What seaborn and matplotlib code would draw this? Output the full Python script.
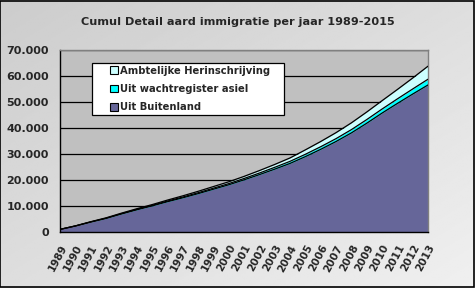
import numpy as np
import pandas as pd
import matplotlib
matplotlib.use("Agg")
import matplotlib.pyplot as plt
import seaborn as sns
from matplotlib.ticker import FuncFormatter
from matplotlib.patches import Patch, Rectangle

years = list(range(1989, 2014))
buitenland = [1000, 2300, 3800, 5200, 6900, 8500, 10000, 11600, 13100, 14700, 16400, 18100,
              20000, 22000, 24100, 26300, 28900, 31700, 34700, 38000, 41700, 45600, 49300, 52900, 56400]
wachtregister = [0, 0, 50, 80, 120, 160, 200, 250, 300, 350, 400, 450, 520, 600, 700, 800,
                 900, 1000, 1100, 1250, 1400, 1550, 1750, 1950, 2200]
herinschrijving = [0, 50, 100, 150, 200, 250, 300, 380, 460, 540, 620, 700, 800, 950, 1100, 1300,
                   1700, 2000, 2300, 2600, 2900, 3200, 3600, 4200, 5000]
series_names = ["Uit Buitenland", "Uit wachtregister asiel", "Ambtelijke Herinschrijving"]
series_colors = ["#666699", "#00FFFF", "#CCFFFF"]
title = "Cumul Detail aard immigratie per jaar 1989-2015"

sns.set_style("white")
plt.rcParams['font.family'] = ['DejaVu Sans']

df = pd.DataFrame({"jaar": years, series_names[0]: buitenland,
                   series_names[1]: wachtregister, series_names[2]: herinschrijving})
cum = df[series_names].cumsum(axis=1)

W, H = 475, 288
fig = plt.figure(figsize=(W/100, H/100), dpi=100)

# gradient background
bg = fig.add_axes([0, 0, 1, 1], zorder=-10)
yy, xx = np.mgrid[0:1:200j, 0:1:200j]
g = 0.80 + 0.14 * (xx * 0.5 + yy * 0.5)
bg.imshow(g, cmap="gray", vmin=0, vmax=1, aspect="auto", extent=[0, 1, 0, 1], origin="upper")
bg.set_xlim(0, 1); bg.set_ylim(0, 1)
bg.axis("off")
bg.add_patch(Rectangle((0.001, 0.002), 0.997, 0.995, fill=False, edgecolor="black", lw=1.2,
                       transform=bg.transAxes))

x0, x1, ytop, ybot = 60, 428, 49.5, 232
ax = fig.add_axes([x0/W, 1-ybot/H, (x1-x0)/W, (ybot-ytop)/H])
ax.set_facecolor("#C0C0C0")

lower = np.zeros(len(years))
for name, col in zip(series_names, series_colors):
    upper = cum[name].values
    ax.fill_between(df["jaar"], lower, upper, color=col, linewidth=0, zorder=2)
    lower = upper
for name in series_names:
    sns.lineplot(x=df["jaar"], y=cum[name], ax=ax, color="black", linewidth=0.9, zorder=3)

ax.set_xlim(1989, 2013)
ax.set_ylim(0, 70000)
ax.set_yticks(np.arange(0, 70001, 10000))
ax.yaxis.set_major_formatter(FuncFormatter(lambda v, p: f"{int(v):,}".replace(",", ".")))
ax.set_xticks(years)
ax.set_xticklabels([str(y) for y in years], rotation=62, ha="right", va="top",
                   rotation_mode="anchor", fontsize=7.5, fontweight="bold")
for lab in ax.get_yticklabels():
    lab.set_fontsize(8); lab.set_fontweight("bold")
ax.grid(axis="y", color="black", linewidth=0.9, zorder=1)
ax.set_axisbelow(True)
ax.set_xlabel(""); ax.set_ylabel("")
ax.tick_params(axis="both", direction="out", length=4, width=0.8, color="black")
ax.tick_params(axis="x", pad=4)
ax.tick_params(axis="y", pad=4)
for side in ["left", "bottom"]:
    ax.spines[side].set_color("black"); ax.spines[side].set_linewidth(1.0)
for side in ["top", "right"]:
    ax.spines[side].set_color("#808080"); ax.spines[side].set_linewidth(1.0)
for side in ax.spines:
    ax.spines[side].set_visible(True)

# legend box
def ax_frac(px, py):
    return ((px - x0) / (x1 - x0), 1 - (py - ytop) / (ybot - ytop))
lx0, ly0 = ax_frac(92, 115)
lx1, ly1 = ax_frac(284, 63)
ax.add_patch(Rectangle((lx0, ly0), lx1 - lx0, ly1 - ly0, transform=ax.transAxes,
                       facecolor="white", edgecolor="black", linewidth=0.9, zorder=4))
handles = [Patch(facecolor=c, edgecolor="black", linewidth=0.8, label=n)
           for n, c in zip(series_names[::-1], series_colors[::-1])]
lpos = ax_frac(110, 65.5)
leg = ax.legend(handles=handles, loc="upper left", bbox_to_anchor=lpos,
                frameon=False, prop={"size": 7.2, "weight": "bold"}, handlelength=0.75,
                handleheight=0.75, handletextpad=0.3, labelspacing=0.85, borderpad=0,
                borderaxespad=0)
leg.set_zorder(5)

fig.text(0.5, 1-22/H, title, ha="center", va="center", fontsize=8.1, fontweight="bold")

fig.savefig("out.png", dpi=100)
